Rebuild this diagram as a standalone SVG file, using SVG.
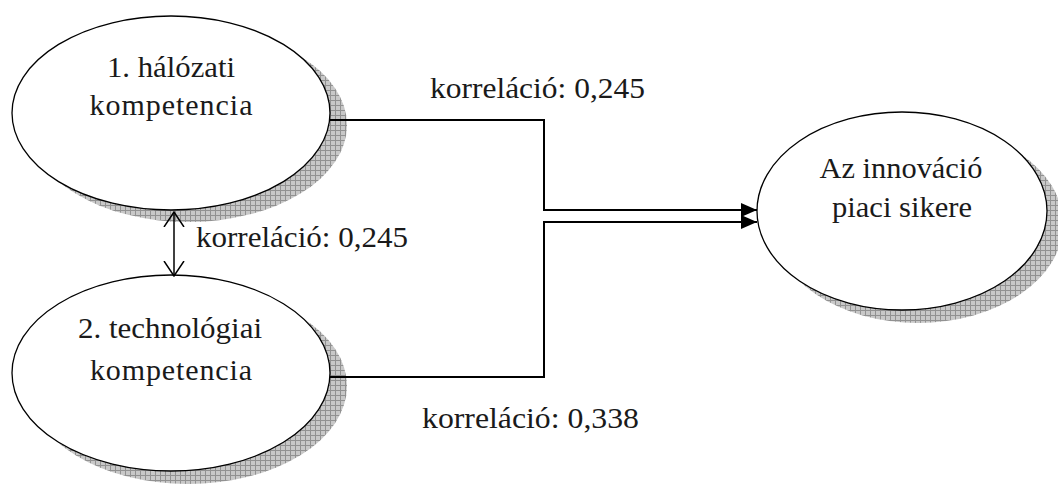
<svg xmlns="http://www.w3.org/2000/svg" width="1058" height="485" viewBox="0 0 1058 485">
  <style>
    .node { fill: #ffffff; stroke: #000000; stroke-width: 1.3; }
    .shadow { fill: url(#hatch); stroke: none; }
    .txt { font-family: "Liberation Serif", "DejaVu Serif", serif; font-size: 30px; fill: #1a1a1a; text-anchor: middle; }
    .lbl { font-family: "Liberation Serif", "DejaVu Serif", serif; font-size: 30px; fill: #1a1a1a; }
    .conn { fill: none; stroke: #000000; stroke-width: 2; }
    .corr { fill: none; stroke: #000000; stroke-width: 1.5; }
  </style>
  <defs>
    <!-- cross-hatched shadow fill -->
    <pattern id="hatch" width="5" height="5" patternUnits="userSpaceOnUse">
      <rect width="5" height="5" fill="#c8c8c8"/>
      <path d="M0 0.5H5M0.5 0V5" stroke="#919191" stroke-width="1"/>
    </pattern>
    <marker id="solid" viewBox="0 0 16 14" refX="16" refY="7" markerWidth="16" markerHeight="14" markerUnits="userSpaceOnUse" orient="auto">
      <path d="M0 0L16 7L0 14Z" fill="#000000"/>
    </marker>
    <marker id="open" viewBox="0 0 16 22" refX="15" refY="11" markerWidth="16" markerHeight="22" markerUnits="userSpaceOnUse" orient="auto-start-reverse">
      <path d="M0 1L15 11L0 21" fill="none" stroke="#000000" stroke-width="1.5"/>
    </marker>
  </defs>

  <g id="node-halozati">
    <ellipse class="shadow" cx="188" cy="125" rx="159" ry="97"/>
    <ellipse class="node" cx="171" cy="113" rx="159" ry="97"/>
    <text class="txt" x="171" y="77" textLength="128" lengthAdjust="spacingAndGlyphs">1. hálózati</text>
    <text class="txt" x="171" y="115" textLength="163" lengthAdjust="spacing">kompetencia</text>
  </g>

  <g id="node-technologiai">
    <ellipse class="shadow" cx="188" cy="386" rx="159" ry="98"/>
    <ellipse class="node" cx="171" cy="373" rx="159" ry="98"/>
    <text class="txt" x="170" y="338" textLength="184" lengthAdjust="spacingAndGlyphs">2. technológiai</text>
    <text class="txt" x="171" y="380" textLength="162" lengthAdjust="spacing">kompetencia</text>
  </g>

  <g id="node-siker">
    <ellipse class="shadow" cx="918" cy="224" rx="145" ry="99"/>
    <ellipse class="node" cx="902" cy="211" rx="145" ry="99"/>
    <text class="txt" x="901" y="178" textLength="163" lengthAdjust="spacingAndGlyphs">Az innováció</text>
    <text class="txt" x="902" y="217" textLength="140" lengthAdjust="spacingAndGlyphs">piaci sikere</text>
  </g>

  <g id="connectors">
    <path class="conn" d="M330 120H544V210H757" marker-end="url(#solid)"/>
    <path class="conn" d="M330 377H544V222H757" marker-end="url(#solid)"/>
    <path class="corr" d="M174 212V276" marker-start="url(#open)" marker-end="url(#open)"/>
  </g>

  <g id="labels">
    <text class="lbl" x="430" y="98" textLength="215" lengthAdjust="spacingAndGlyphs">korreláció: 0,245</text>
    <text class="lbl" x="196" y="247" textLength="212" lengthAdjust="spacingAndGlyphs">korreláció: 0,245</text>
    <text class="lbl" x="422" y="428" textLength="217" lengthAdjust="spacingAndGlyphs">korreláció: 0,338</text>
  </g>
</svg>
